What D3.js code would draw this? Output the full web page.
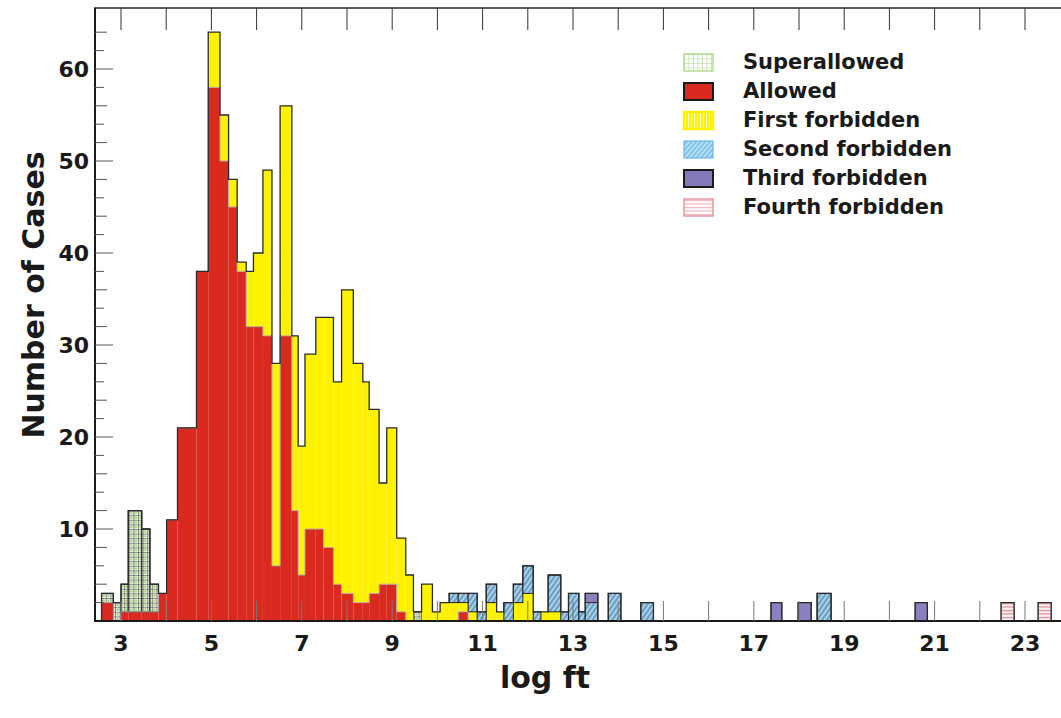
<!DOCTYPE html>
<html>
<head>
<meta charset="utf-8">
<title>Number of cases vs log ft</title>
<style>
  body { margin: 0; background: #fff; }
  text { font-family: "DejaVu Sans", Verdana, sans-serif; font-weight: bold; fill: #1a1a1a; }
</style>
</head>
<body>
<script src="https://cdn.jsdelivr.net/npm/d3@7/dist/d3.min.js"></script>
<script>

// bin edges in log ft (the bins are not evenly spaced)
var edges = [2.57, 2.83, 3.00, 3.16, 3.46, 3.64, 3.83, 4.01, 4.25, 4.67,
             4.93, 5.19, 5.38, 5.57, 5.77, 5.93, 6.14, 6.34, 6.52, 6.78,
             6.92, 7.07, 7.31, 7.48, 7.70, 7.88, 8.14, 8.35, 8.49, 8.71,
             8.88, 9.10, 9.30, 9.47, 9.65, 9.89, 10.06, 10.26, 10.46, 10.68,
             10.88, 11.08, 11.31, 11.47, 11.68, 11.89, 12.12, 12.29, 12.45, 12.73,
             12.90, 13.13, 13.27, 13.55, 13.78, 14.06, 14.50, 14.78, 17.38, 17.62,
             17.98, 18.27, 18.40, 18.71, 20.57, 20.84, 22.47, 22.76, 23.29, 23.58];

// counts per bin for each transition type
var allowed      = [2, 0, 1, 1, 1, 1, 3, 11, 21, 38,
                    58, 50, 45, 38, 32, 32, 31, 6, 31, 12,
                    5, 10, 10, 8, 4, 3, 2, 2, 3, 4,
                    4, 1, 0, 0, 0, 0, 0, 0, 1, 0,
                    0, 0, 0, 0, 0, 0, 0, 0, 0, 0,
                    0, 0, 0, 0, 0, 0, 0, 0, 0, 0,
                    0, 0, 0, 0, 0, 0, 0, 0, 0];
var superallowed = [1, 2, 3, 11, 9, 3, 0, 0, 0, 0,
                    0, 0, 0, 0, 0, 0, 0, 0, 0, 0,
                    0, 0, 0, 0, 0, 0, 0, 0, 0, 0,
                    0, 0, 0, 1, 0, 0, 0, 0, 0, 0,
                    0, 0, 0, 0, 0, 0, 0, 0, 0, 0,
                    0, 0, 0, 0, 0, 0, 0, 0, 0, 0,
                    0, 0, 0, 0, 0, 0, 0, 0, 0];
var first        = [0, 0, 0, 0, 0, 0, 0, 0, 0, 0,
                    6, 5, 3, 1, 6, 8, 18, 22, 25, 19,
                    14, 19, 23, 25, 22, 33, 26, 24, 20, 11,
                    17, 8, 5, 0, 4, 1, 2, 2, 1, 1,
                    0, 2, 1, 0, 2, 3, 0, 1, 1, 0,
                    0, 0, 0, 0, 0, 0, 0, 0, 0, 0,
                    0, 0, 0, 0, 0, 0, 0, 0, 0];
var second       = [0, 0, 0, 0, 0, 0, 0, 0, 0, 0,
                    0, 0, 0, 0, 0, 0, 0, 0, 0, 0,
                    0, 0, 0, 0, 0, 0, 0, 0, 0, 0,
                    0, 0, 0, 0, 0, 0, 0, 1, 1, 2,
                    1, 2, 0, 2, 2, 3, 1, 0, 4, 1,
                    3, 1, 2, 0, 3, 0, 2, 0, 0, 0,
                    0, 0, 3, 0, 0, 0, 0, 0, 0];
var third        = [0, 0, 0, 0, 0, 0, 0, 0, 0, 0,
                    0, 0, 0, 0, 0, 0, 0, 0, 0, 0,
                    0, 0, 0, 0, 0, 0, 0, 0, 0, 0,
                    0, 0, 0, 0, 0, 0, 0, 0, 0, 0,
                    0, 0, 0, 0, 0, 0, 0, 0, 0, 0,
                    0, 0, 1, 0, 0, 0, 0, 0, 2, 0,
                    2, 0, 0, 0, 2, 0, 0, 0, 0];
var fourth       = [0, 0, 0, 0, 0, 0, 0, 0, 0, 0,
                    0, 0, 0, 0, 0, 0, 0, 0, 0, 0,
                    0, 0, 0, 0, 0, 0, 0, 0, 0, 0,
                    0, 0, 0, 0, 0, 0, 0, 0, 0, 0,
                    0, 0, 0, 0, 0, 0, 0, 0, 0, 0,
                    0, 0, 0, 0, 0, 0, 0, 0, 0, 0,
                    0, 0, 0, 0, 0, 0, 2, 0, 2];

var xTickLabels = [3, 5, 7, 9, 11, 13, 15, 17, 19, 21, 23];
var yTickLabels = [10, 20, 30, 40, 50, 60];
var legendLabels = ["Superallowed", "Allowed", "First forbidden",
                    "Second forbidden", "Third forbidden", "Fourth forbidden"];

var W = 1061, H = 718;
var svg = d3.select("body").append("svg").attr("width", W).attr("height", H);

// scales
var x = d3.scaleLinear().domain([3, 23]).range([121, 1025]);
var y = d3.scaleLinear().domain([0, 60]).range([621, 69]);

// fill patterns
var defs = svg.append("defs");

var pS = defs.append("pattern").attr("id", "pSuper").attr("patternUnits", "userSpaceOnUse")
  .attr("width", 4.6).attr("height", 4.6);
pS.append("rect").attr("width", 4.6).attr("height", 4.6).attr("fill", "#f4f8ee");
pS.append("path").attr("d", "M0,0H4.6M0,0V4.6").attr("stroke", "#2a2a2a").attr("stroke-width", 1);
pS.append("circle").attr("cx", 2.6).attr("cy", 2.6).attr("r", 1.4).attr("fill", "#a9d47e");

var pB = defs.append("pattern").attr("id", "pSecond").attr("patternUnits", "userSpaceOnUse")
  .attr("width", 4).attr("height", 4).attr("patternTransform", "rotate(35)");
pB.append("rect").attr("width", 4).attr("height", 4).attr("fill", "#a6d2ee");
pB.append("line").attr("x1", 1).attr("x2", 1).attr("y1", 0).attr("y2", 4)
  .attr("stroke", "#3e6f96").attr("stroke-width", 1.1);

var pF = defs.append("pattern").attr("id", "pFourth").attr("patternUnits", "userSpaceOnUse")
  .attr("width", 4).attr("height", 3.5);
pF.append("rect").attr("width", 4).attr("height", 3.5).attr("fill", "#f6f2f2");
pF.append("line").attr("x1", 0).attr("x2", 4).attr("y1", 1.5).attr("y2", 1.5)
  .attr("stroke", "#e9818f").attr("stroke-width", 1.2);

// legend versions (lighter)
var lS = defs.append("pattern").attr("id", "lgSuper").attr("patternUnits", "userSpaceOnUse")
  .attr("width", 4.5).attr("height", 4.5);
lS.append("rect").attr("width", 4.5).attr("height", 4.5).attr("fill", "#fff");
lS.append("path").attr("d", "M0,0H4.5M0,0V4.5").attr("stroke", "#a6d57e").attr("stroke-width", 1.1);

var lF = defs.append("pattern").attr("id", "lgFirst").attr("patternUnits", "userSpaceOnUse")
  .attr("width", 3).attr("height", 3);
lF.append("rect").attr("width", 3).attr("height", 3).attr("fill", "#fff200");
lF.append("line").attr("x1", 1.5).attr("x2", 1.5).attr("y1", 0).attr("y2", 3)
  .attr("stroke", "#fff").attr("stroke-width", 0.9);

var lB = defs.append("pattern").attr("id", "lgSecond").attr("patternUnits", "userSpaceOnUse")
  .attr("width", 3.5).attr("height", 3.5).attr("patternTransform", "rotate(40)");
lB.append("rect").attr("width", 3.5).attr("height", 3.5).attr("fill", "#7fc3ea");
lB.append("line").attr("x1", 1).attr("x2", 1).attr("y1", 0).attr("y2", 3.5)
  .attr("stroke", "#e6f4fc").attr("stroke-width", 1);

var lP = defs.append("pattern").attr("id", "lgFourth").attr("patternUnits", "userSpaceOnUse")
  .attr("width", 4).attr("height", 3.5);
lP.append("rect").attr("width", 4).attr("height", 3.5).attr("fill", "#fff");
lP.append("line").attr("x1", 0).attr("x2", 4).attr("y1", 1.5).attr("y2", 1.5)
  .attr("stroke", "#f0a2ac").attr("stroke-width", 1);

// build the stacked table
var keys = ["allowed", "superallowed", "first", "second", "third", "fourth"];
var series = {allowed: allowed, superallowed: superallowed, first: first,
              second: second, third: third, fourth: fourth};
var fills = {allowed: "#da2a1f", superallowed: "url(#pSuper)", first: "#fff200",
             second: "url(#pSecond)", third: "#8a80c0", fourth: "url(#pFourth)"};
var strokes = {allowed: "none", superallowed: "#222", first: "none",
               second: "#222", third: "#333", fourth: "#999"};

var rows = edges.slice(0, -1).map(function(e, i) {
  var r = {x0: e, x1: edges[i + 1]};
  keys.forEach(function(k) { r[k] = series[k][i]; });
  return r;
});
var stacked = d3.stack().keys(keys)(rows);

// bars
svg.selectAll("g.layer")
    .data(stacked)
  .enter().append("g")
    .attr("class", "layer")
    .attr("fill", function(d) { return fills[d.key]; })
    .attr("stroke", function(d) { return strokes[d.key]; })
    .attr("stroke-width", 1)
  .selectAll("rect")
    .data(function(d) { return d.filter(function(s) { return s[1] > s[0]; }); })
  .enter().append("rect")
    .attr("x", function(s) { return x(s.data.x0); })
    .attr("width", function(s) { return x(s.data.x1) - x(s.data.x0); })
    .attr("y", function(s) { return y(s[1]); })
    .attr("height", function(s) { return y(s[0]) - y(s[1]); });

// step outline of a layer top
function profile(top) {
  var d = "", open = false;
  rows.forEach(function(r) {
    var t = top(r);
    if (t > 0) {
      if (!open) { d += "M" + x(r.x0) + "," + y(0); open = true; }
      d += "V" + y(t) + "H" + x(r.x1);
    } else if (open) {
      d += "V" + y(0);
      open = false;
    }
  });
  if (open) d += "V" + y(0);
  return d;
}

svg.append("path")
    .attr("d", profile(function(r) { return r.allowed; }))
    .attr("fill", "none").attr("stroke", "#b8aaa8").attr("stroke-width", 1);

svg.append("path")
    .attr("d", profile(function(r) { return d3.sum(keys, function(k) { return r[k]; }); }))
    .attr("fill", "none").attr("stroke", "#2a2a2a").attr("stroke-width", 1.3);

// frame: left, top and bottom lines
svg.append("line").attr("x1", 95).attr("x2", 95).attr("y1", 8).attr("y2", 622)
  .attr("stroke", "#1a1a1a").attr("stroke-width", 2);
svg.append("line").attr("x1", 94).attr("x2", W).attr("y1", 8).attr("y2", 8)
  .attr("stroke", "#2a2a2a").attr("stroke-width", 1.5);
svg.append("line").attr("x1", 94).attr("x2", W).attr("y1", 621).attr("y2", 621)
  .attr("stroke", "#1a1a1a").attr("stroke-width", 2);

// x ticks, top and bottom
var xTicks = d3.range(3, 24);
svg.selectAll("line.xtop").data(xTicks).enter().append("line")
    .attr("x1", x).attr("x2", x).attr("y1", 8).attr("y2", 30)
    .attr("stroke", "#333").attr("stroke-width", 1);
svg.selectAll("line.xbot").data(xTicks).enter().append("line")
    .attr("x1", x).attr("x2", x).attr("y1", 621).attr("y2", 601)
    .attr("stroke", "#777").attr("stroke-width", 1);

// y ticks
var yTicks = d3.range(2, 65, 2);
svg.selectAll("line.ytick").data(yTicks).enter().append("line")
    .attr("x1", 95)
    .attr("x2", function(d) { return d % 10 === 0 ? 113 : (d % 4 === 0 ? 107 : 104); })
    .attr("y1", y).attr("y2", y)
    .attr("stroke", "#555").attr("stroke-width", 1);

// tick labels
svg.selectAll("text.xl").data(xTickLabels).enter().append("text")
    .attr("x", x).attr("y", 651)
    .attr("text-anchor", "middle")
    .style("font-size", "22px")
    .text(function(d) { return d; });

svg.selectAll("text.yl").data(yTickLabels).enter().append("text")
    .attr("x", 89).attr("y", function(d) { return y(d) + 8; })
    .attr("text-anchor", "end")
    .style("font-size", "22px")
    .text(function(d) { return d; });

// axis titles
svg.append("text")
    .attr("x", 545).attr("y", 688)
    .attr("text-anchor", "middle")
    .style("font-size", "30px")
    .text("log ft");

svg.append("text")
    .attr("transform", "translate(44,295) rotate(-90)")
    .attr("text-anchor", "middle")
    .style("font-size", "30px")
    .text("Number of Cases");

// legend
var legendFills = ["url(#lgSuper)", "#da2a1f", "url(#lgFirst)", "url(#lgSecond)", "#8479b8", "url(#lgFourth)"];
var legendStrokes = ["#a6d57e", "#1a1a1a", "#fff200", "#6bb8e6", "#1a1a1a", "#e07f8c"];
var legendStrokeW = [1.2, 2, 2.5, 1.2, 2, 1.2];

var legend = svg.selectAll("g.leg").data(legendLabels).enter().append("g")
    .attr("transform", function(d, i) { return "translate(684," + (54 + i * 29) + ")"; });
legend.append("rect")
    .attr("width", 29).attr("height", 17)
    .attr("fill", function(d, i) { return legendFills[i]; })
    .attr("stroke", function(d, i) { return legendStrokes[i]; })
    .attr("stroke-width", function(d, i) { return legendStrokeW[i]; });
legend.append("text")
    .attr("x", 59).attr("y", 15)
    .style("font-size", "21px")
    .text(function(d) { return d; });

</script>
</body>
</html>
